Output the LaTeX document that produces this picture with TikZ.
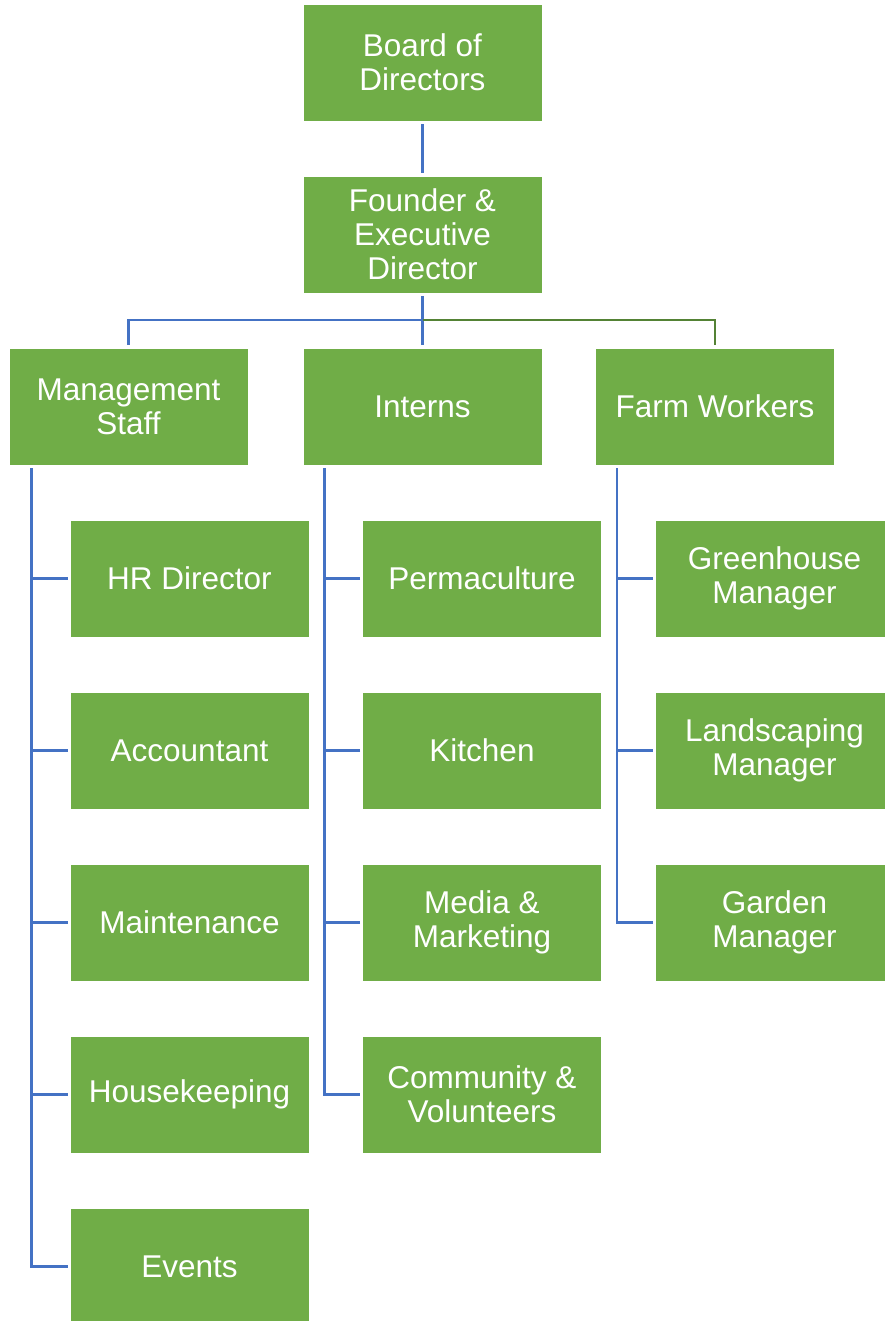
\documentclass[tikz,border=0pt]{standalone}
\usepackage{fontspec}
\setmainfont{Liberation Sans}
\definecolor{boxgreen}{HTML}{70AD47}
\definecolor{lineblue}{HTML}{4472C4}
\definecolor{linegreen}{HTML}{548235}
\begin{document}
\begin{tikzpicture}[x=1pt,y=-1pt,
  orgbox/.style={rectangle, fill=boxgreen, draw=white, line width=0.8pt,
    minimum width=239pt, minimum height=117pt, inner sep=0pt,
    text=white, align=center, font=\fontsize{31.5}{34}\selectfont},
  conn/.style={draw=lineblue, line width=2.4pt},
  conng/.style={draw=linegreen, line width=2.4pt}]
\useasboundingbox (0,0) rectangle (885,1321);
% top
\node[orgbox] (board) at (422.5,62.5) {Board of\\Directors};
\node[orgbox] (founder) at (422.5,234.5) {Founder \&\\Executive\\Director};
% level 2
\node[orgbox] (mgmt) at (128.5,406.5) {Management\\Staff};
\node[orgbox] (interns) at (422.5,406.5) {Interns};
\node[orgbox] (farm) at (715,406.5) {Farm Workers};
% management children
\node[orgbox] (hr) at (189.5,578.5) {HR Director};
\node[orgbox] (acc) at (189.5,750.5) {Accountant};
\node[orgbox] (maint) at (189.5,922.5) {Maintenance};
\node[orgbox] (house) at (189.5,1094.5) {Housekeeping};
\node[orgbox] (events) at (189.5,1266.5) {Events};
% interns children
\node[orgbox] (perma) at (482,578.5) {Permaculture};
\node[orgbox] (kitchen) at (482,750.5) {Kitchen};
\node[orgbox] (media) at (482,922.5) {Media \&\\Marketing};
\node[orgbox] (comm) at (482,1094.5) {Community \&\\Volunteers};
% farm children
\node[orgbox] (green) at (774.5,578.5) {Greenhouse\\Manager};
\node[orgbox] (land) at (774.5,750.5) {Landscaping\\Manager};
\node[orgbox] (garden) at (774.5,922.5) {Garden\\Manager};
% connectors top
\draw[conn, shorten <=3pt, shorten >=3pt] (board.south) -- (founder.north);
\coordinate (bar) at (423,320);
\draw[conn, shorten <=3pt, shorten >=3pt] (founder.south) -- (interns.north);
\draw[conn, shorten <=3pt] (mgmt.north) |- (bar);
\draw[conng, shorten <=3pt] (farm.north) |- (bar);
% spines
\coordinate (mspine) at ([xshift=23pt,yshift=-3pt]mgmt.south west);
\coordinate (ispine) at ([xshift=22pt,yshift=-3pt]interns.south west);
\coordinate (fspine) at ([xshift=22pt,yshift=-3pt]farm.south west);
\draw[conn, shorten >=2pt] (mspine) |- (events.west);
\draw[conn, shorten >=2pt] (ispine) |- (comm.west);
\draw[conn, shorten >=2pt] (fspine) |- (garden.west);
\foreach \c in {hr,acc,maint,house}
  \draw[conn, shorten <=2pt] (\c.west) -- (\c.west -| mspine);
\foreach \c in {perma,kitchen,media}
  \draw[conn, shorten <=2pt] (\c.west) -- (\c.west -| ispine);
\foreach \c in {green,land}
  \draw[conn, shorten <=2pt] (\c.west) -- (\c.west -| fspine);
\end{tikzpicture}
\end{document}
